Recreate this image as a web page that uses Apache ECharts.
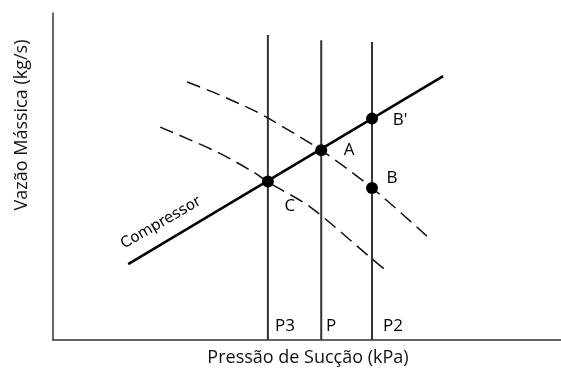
<!DOCTYPE html>
<html>
<head>
<meta charset="utf-8">
<script src="https://cdn.jsdelivr.net/npm/echarts@6/dist/echarts.min.js"></script>
<style>
  html, body { margin: 0; padding: 0; background: #fff; }
  #chart { width: 561px; height: 377px; }
</style>
</head>
<body>
<div id="chart"></div>
<script>
  // unidades arbitrárias (figura qualitativa), 0..100 nos dois eixos
  const pressureNames = ['P3', 'P', 'P2'];
  const pressureX = [42.3, 52.8, 62.8];
  const pressureTop = [93.3, 91.7, 91.1];

  // reta do compressor
  const compressorX = [14.8, 76.8];
  const compressorY = [23.2, 80.7];

  // curvas tracejadas (evaporador)
  const upperCurveX = [26.4, 31.5, 39.4, 42.3, 52.8, 62.8, 73.8];
  const upperCurveY = [78.9, 75.8, 70.3, 67.9, 58.0, 46.5, 31.5];
  const lowerCurveX = [21.1, 32.3, 39.4, 42.3, 50.6, 62.8, 65.9];
  const lowerCurveY = [65.1, 57.5, 51.4, 48.3, 40.7, 24.8, 20.8];

  // pontos de operação
  const pointNames = ['C', 'A', "B'", 'B'];
  const pointX = [42.3, 52.8, 62.8, 62.8];
  const pointY = [48.5, 58.0, 67.7, 46.5];

  const zip = (xs, ys) => xs.map((x, i) => [x, ys[i]]);

  const labelOffsets = {
    'C': [16, 25],
    'A': [22, 0],
    "B'": [22, 2],
    'B': [14, -10]
  };
  const pLabelOffsets = { 'P3': [17, 0], 'P': [10, 0], 'P2': [21, 0] };

  const chart = echarts.init(document.getElementById('chart'));

  const verticalSeries = pressureX.map((x, i) => ({
    type: 'line',
    data: [[x, 0], [x, pressureTop[i]]],
    symbol: 'none',
    lineStyle: { color: '#333', width: 2 },
    silent: true,
    z: 1
  }));

  const dashed = (xs, ys) => ({
    type: 'line',
    data: zip(xs, ys),
    smooth: 0.3,
    symbol: 'none',
    lineStyle: { color: '#111', width: 1.5, type: [14, 7] },
    z: 2
  });

  const option = {
    animation: false,
    grid: { left: 53, right: 0, top: 13, bottom: 37 },
    xAxis: {
      type: 'value', min: 0, max: 100,
      axisLine: { show: true, lineStyle: { color: '#333', width: 1.5 } },
      axisTick: { show: false }, axisLabel: { show: false }, splitLine: { show: false }
    },
    yAxis: {
      type: 'value', min: 0, max: 100,
      axisLine: { show: true, lineStyle: { color: '#333', width: 1.5 } },
      axisTick: { show: false }, axisLabel: { show: false }, splitLine: { show: false }
    },
    series: [
      ...verticalSeries,
      dashed(upperCurveX, upperCurveY),
      dashed(lowerCurveX, lowerCurveY),
      {
        type: 'line',
        data: zip(compressorX, compressorY),
        symbol: 'none',
        lineStyle: { color: '#000', width: 2.5 },
        z: 3
      },
      {
        type: 'scatter',
        data: pointNames.map((n, i) => ({ name: n, value: [pointX[i], pointY[i]] })),
        symbolSize: 12,
        itemStyle: { color: '#000', opacity: 1 },
        label: {
          show: true,
          position: 'inside',
          formatter: '{b}',
          color: '#000',
          fontSize: 17,
          fontFamily: 'Open Sans'
        },
        labelLayout: (p) => {
          const off = labelOffsets[pointNames[p.dataIndex]];
          return { dx: off[0] + 6, dy: off[1] };
        },
        z: 4
      },
      {
        type: 'scatter',
        data: pressureNames.map((n, i) => ({ name: n, value: [pressureX[i], 4.3] })),
        symbolSize: 0,
        itemStyle: { opacity: 1 },
        label: {
          show: true,
          position: 'inside',
          formatter: '{b}',
          color: '#000',
          fontSize: 17,
          fontFamily: 'Open Sans'
        },
        labelLayout: (p) => {
          const off = pLabelOffsets[pressureNames[p.dataIndex]];
          return { dx: off[0], dy: off[1] };
        },
        z: 4
      }
    ],
    graphic: [
      {
        type: 'text',
        x: 161, y: 223,
        rotation: Math.PI / 6,
        style: {
          text: 'Compressor',
          font: '15px "DejaVu Sans"',
          fill: '#000',
          align: 'center',
          verticalAlign: 'middle'
        }
      },
      {
        type: 'text',
        x: 22, y: 125,
        rotation: Math.PI / 2,
        style: {
          text: 'Vazão Mássica (kg/s)',
          font: '18px "Open Sans"',
          fill: '#111',
          align: 'center',
          verticalAlign: 'middle'
        }
      },
      {
        type: 'text',
        x: 308, y: 358,
        style: {
          text: 'Pressão de Sucção (kPa)',
          font: '18px "Open Sans"',
          fill: '#111',
          align: 'center',
          verticalAlign: 'middle'
        }
      }
    ]
  };

  chart.setOption(option);
</script>
</body>
</html>
